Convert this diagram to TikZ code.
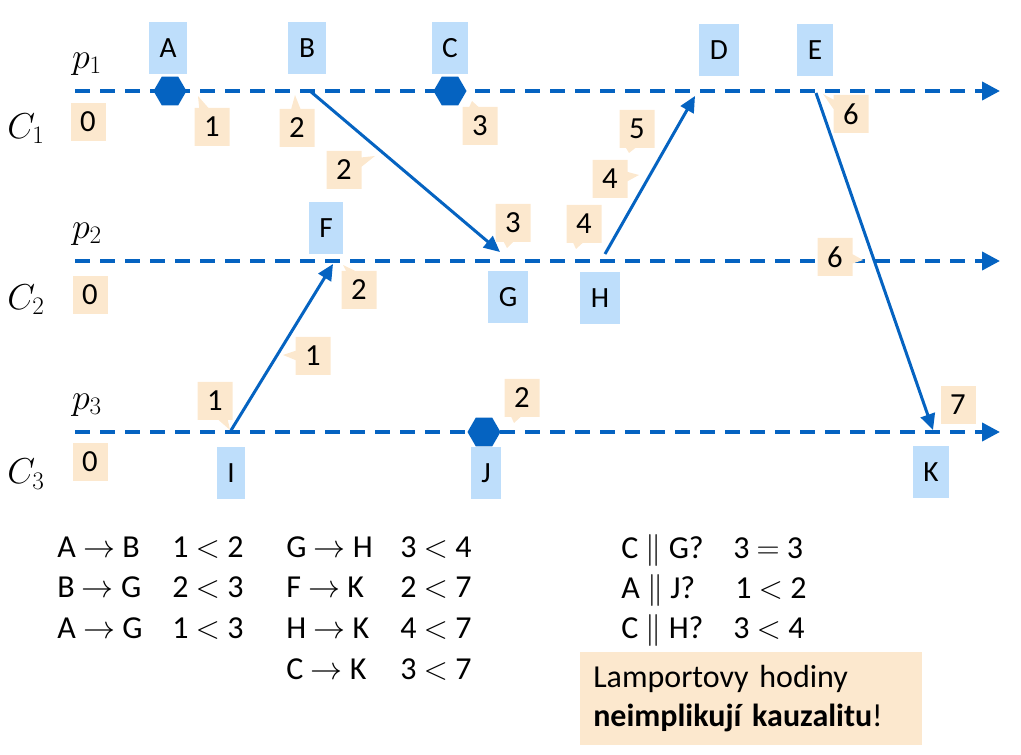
\RequirePackage{fix-cm}
\documentclass[tikz,border=0pt]{standalone}
\usepackage{fontspec}
\setmainfont{Carlito}
\usetikzlibrary{arrows.meta,shapes.geometric,shapes.callouts}
\definecolor{lineblue}{RGB}{5,99,193}
\definecolor{boxblue}{RGB}{190,222,251}
\definecolor{clockfill}{RGB}{252,232,206}
\begin{document}
\begin{tikzpicture}[x=0.75pt,y=-0.75pt,
  timeline/.style={line width=3pt, draw=lineblue, dash pattern=on 11.25pt off 7.5pt, -{Triangle[length=13.5pt,width=13.5pt,fill=lineblue]}},
  msg/.style={line width=2.25pt, draw=lineblue, -{Triangle[length=12pt,width=11pt,fill=lineblue]}},
  evt/.style={fill=boxblue, minimum height=39pt, inner xsep=8pt, inner ysep=0pt, font=\fontsize{22}{24}\selectfont},
  clk/.style={fill=clockfill, minimum width=26.25pt, minimum height=28.5pt, inner sep=0pt, font=\fontsize{23}{25}\selectfont},
  clkc/.style={clk, rectangle callout, callout pointer width=7pt},
  hex/.style={regular polygon, regular polygon sides=6, fill=lineblue, minimum size=24.75pt, inner sep=0pt},
  proc/.style={font=\fontsize{27}{30}\selectfont, inner sep=0pt},
  bt/.style={font=\fontsize{24}{28}\selectfont, inner sep=0pt, anchor=base west}]
\useasboundingbox (0,0) rectangle (1021,755);

% timelines
\coordinate (L1s) at (75,91);  \coordinate (L1e) at (1000,91);
\coordinate (L2s) at (75,261); \coordinate (L2e) at (1000,261);
\coordinate (L3s) at (75,432); \coordinate (L3e) at (1000,432);
\draw[timeline] (L1s) -- (L1e);
\draw[timeline] (L2s) -- (L2e);
\draw[timeline] (L3s) -- (L3e);

% process and clock labels
\node[proc] (p1) at (87,64) {$p_1$};
\node[proc] (p2) at (87,234) {$p_2$};
\node[proc] (p3) at (87,405) {$p_3$};
\node[proc] (C1) at (26,129) {$C_1$};
\node[proc] (C2) at (26,300) {$C_2$};
\node[proc] (C3) at (26,474) {$C_3$};

% internal events
\node[hex] (hA) at (170,91) {};
\node[hex] (hC) at (450,91) {};
\node[hex] (hJ) at (484,432) {};

% event labels
\node[evt] (A) at (168,48) {A};
\node[evt] (B) at (307,48) {B};
\node[evt] (C) at (450,48) {C};
\node[evt] (D) at (719,50) {D};
\node[evt] (E) at (815,50) {E};
\node[evt] (F) at (326,228) {F};
\node[evt] (G) at (508,297) {G};
\node[evt] (H) at (600,298) {H};
\node[evt] (I) at (231,473) {I};
\node[evt] (J) at (486,473) {J};
\node[evt] (K) at (931,472) {K};

% messages
\coordinate (sB) at (310,91);  \coordinate (tG) at (500,252);
\coordinate (sI) at (230,432); \coordinate (tF) at (333,264);
\coordinate (sH) at (605,254); \coordinate (tD) at (695,96);
\coordinate (sE) at (816,93);  \coordinate (tK) at (933,430);
\draw[msg] (sB) -- (tG);
\draw[msg] (sI) -- (tF);
\draw[msg] (sH) -- (tD);
\draw[msg] (sE) -- (tK);

% clocks
\node[clk] (z1) at (88,122) {0};
\node[clk] (z2) at (90,295) {0};
\node[clk] (z3) at (90,462) {0};
\node[clk] (k7) at (958,405) {7};
\node[clkc, callout absolute pointer={(198,96)}] (c1) at (212,127) {1};
\node[clkc, callout absolute pointer={(295,95)}] (c2) at (297,128) {2};
\node[clkc, callout absolute pointer={(472,101)}] (c3) at (480,126) {3};
\node[clkc, callout absolute pointer={(375,156)}] (c4) at (344,170) {2};
\node[clkc, callout absolute pointer={(507,248)}] (c5) at (513,223) {3};
\node[clkc, callout absolute pointer={(576,249)}] (c6) at (584,224) {4};
\node[clkc, callout absolute pointer={(639,175)}] (c7) at (610,179) {4};
\node[clkc, callout absolute pointer={(629,153)}] (c8) at (637,129) {5};
\node[clkc, callout absolute pointer={(823,94)}] (c9) at (851,114) {6};
\node[clkc, callout absolute pointer={(863,260)}] (c10) at (835,257) {6};
\node[clkc, callout absolute pointer={(343,265)}] (c11) at (359,290) {2};
\node[clkc, callout absolute pointer={(283,355)}] (c12) at (313,356) {1};
\node[clkc, callout absolute pointer={(230,430)}] (c13) at (215,401) {1};
\node[clkc, callout absolute pointer={(514,423)}] (c14) at (522,398) {2};

% relations
\node[bt] (r1) at (57,557) {A $\rightarrow$ B};
\node[bt] (v1) at (172,557) {1 $<$ 2};
\node[bt] (r2) at (57,597) {B $\rightarrow$ G};
\node[bt] (v2) at (172,597) {2 $<$ 3};
\node[bt] (r3) at (57,638) {A $\rightarrow$ G};
\node[bt] (v3) at (172,638) {1 $<$ 3};
\node[bt] (r4) at (286,557) {G $\rightarrow$ H};
\node[bt] (v4) at (400,557) {3 $<$ 4};
\node[bt] (r5) at (286,597) {F $\rightarrow$ K};
\node[bt] (v5) at (400,597) {2 $<$ 7};
\node[bt] (r6) at (286,638) {H $\rightarrow$ K};
\node[bt] (v6) at (400,638) {4 $<$ 7};
\node[bt] (r7) at (286,679) {C $\rightarrow$ K};
\node[bt] (v7) at (400,679) {3 $<$ 7};
\node[bt] (q1) at (621,558) {C $\|$ G?};
\node[bt] (w1) at (733,558) {3 $=$ 3};
\node[bt] (q2) at (621,598) {A $\|$ J?};
\node[bt] (w2) at (735,598) {1 $<$ 2};
\node[bt] (q3) at (621,638) {C $\|$ H?};
\node[bt] (w3) at (733,638) {3 $<$ 4};

% conclusion
\node[fill=clockfill, anchor=north west, minimum width=256.5pt, minimum height=69.75pt,
      text width=237pt, inner xsep=9.75pt, align=left,
      font=\fontsize{24}{29.25}\selectfont] (note) at (580,652)
  {Lamportovy hodiny\\\textbf{neimplikují kauzalitu}!};
\end{tikzpicture}
\end{document}
